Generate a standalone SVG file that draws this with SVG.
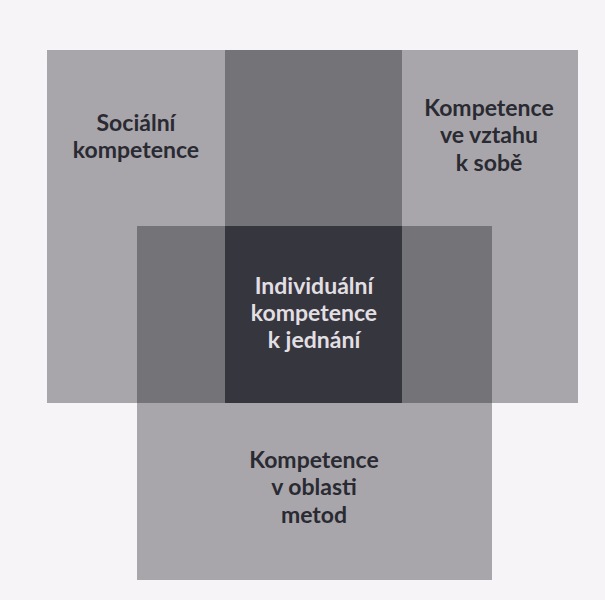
<svg xmlns="http://www.w3.org/2000/svg" width="605" height="600" viewBox="0 0 605 600">
  <style>
    .area { fill: #a8a6aa; }
    .two { fill: #747478; }
    .three { fill: #36363f; }
    .lbl { font-family: Lato, "Open Sans", "Liberation Sans", sans-serif; font-weight: 700; font-size: 23px; fill: #2a2a33; text-anchor: middle; }
    .lbl.light { fill: #e2dfe3; }
  </style>
  <rect width="605" height="600" fill="#f6f4f6"/>

  <!-- three overlapping competence fields -->
  <g id="social">
    <rect class="area" x="47" y="50" width="355" height="353"/>
  </g>
  <g id="self">
    <rect class="area" x="225" y="50" width="353" height="353"/>
  </g>
  <g id="methods">
    <rect class="area" x="137" y="226" width="355" height="354"/>
  </g>

  <!-- overlaps of two fields -->
  <g id="overlaps">
    <rect class="two" x="225" y="50" width="177" height="176"/>
    <rect class="two" x="137" y="226" width="88" height="177"/>
    <rect class="two" x="402" y="226" width="90" height="177"/>
  </g>

  <!-- core where all three meet -->
  <g id="individual">
    <rect class="three" x="225" y="226" width="177" height="177"/>
  </g>

  <g id="labels">
    <text class="lbl" x="136" y="131">Sociální</text>
    <text class="lbl" x="136" y="158">kompetence</text>

    <text class="lbl" x="489" y="116">Kompetence</text>
    <text class="lbl" x="489" y="143">ve vztahu</text>
    <text class="lbl" x="489" y="171">k sobě</text>

    <text class="lbl light" x="314" y="294">Individuální</text>
    <text class="lbl light" x="314" y="321">kompetence</text>
    <text class="lbl light" x="314" y="348">k jednání</text>

    <text class="lbl" x="314" y="468">Kompetence</text>
    <text class="lbl" x="314" y="495">v oblasti</text>
    <text class="lbl" x="314" y="523">metod</text>
  </g>
</svg>
